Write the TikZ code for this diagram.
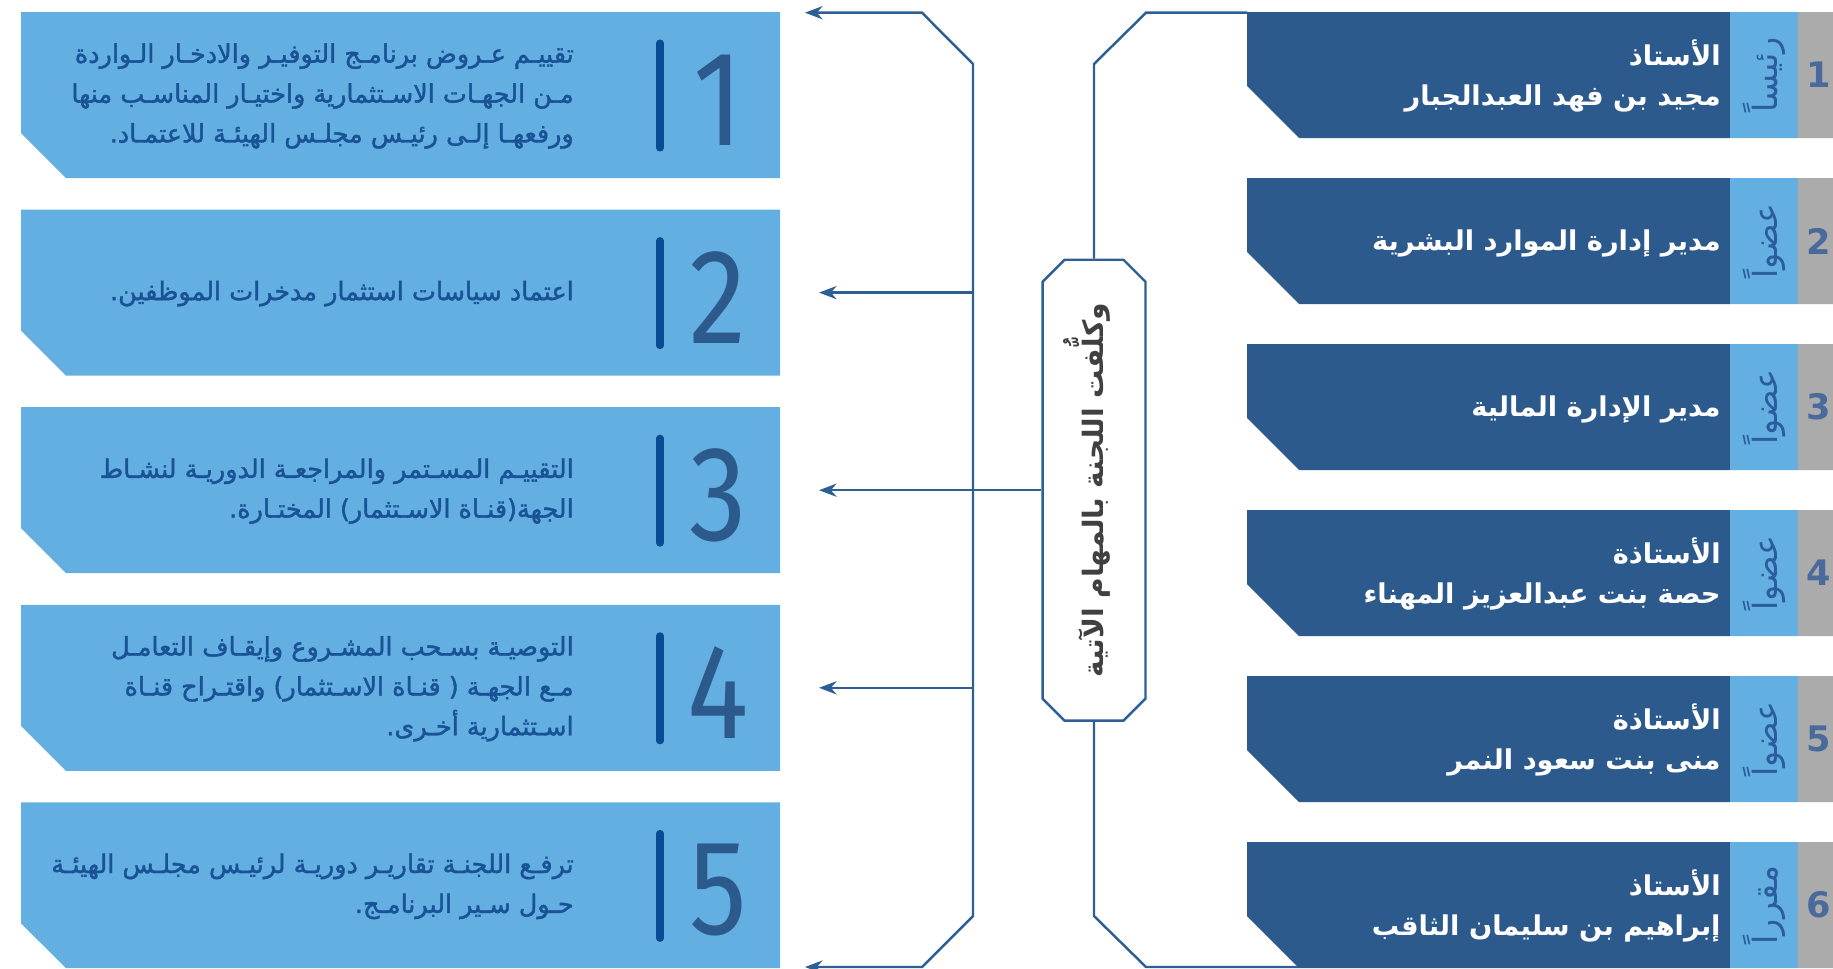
\documentclass[tikz,border=0pt]{standalone}
\usepackage{fontspec}
\usepackage{tikz}
\usetikzlibrary{arrows.meta, positioning, shapes.misc, calc}

\TeXXeTstate=1
\newfontfamily\arabicfont[Script=Arabic]{DejaVu Sans}
\newfontfamily\arabicmed[Script=Arabic, FakeBold=1.6]{DejaVu Sans}
\newfontfamily\idfont{DejaVu Sans}
\newfontfamily\bigdigit[FakeStretch=0.85]{Fira Sans}

\definecolor{skyfill}{HTML}{63AFE2}
\definecolor{navyfill}{HTML}{2D5A8C}
\definecolor{barblue}{HTML}{0A4B96}
\definecolor{taskink}{HTML}{1A5296}
\definecolor{roleink}{HTML}{2B5C9C}
\definecolor{greyfill}{HTML}{ABABAB}
\definecolor{idink}{HTML}{4A6A9C}
\definecolor{linkblue}{HTML}{2D5F96}
\definecolor{headink}{HTML}{404040}

\tikzset{
  taskline/.style={anchor=east, align=right, inner sep=0pt, text=taskink,
    font=\arabicmed\fontsize{14.5}{22.7}\selectfont},
  bignum/.style={inner sep=0pt, text=navyfill, font=\bigdigit\fontsize{77}{77}\selectfont},
  numbar/.style={barblue, line width=4pt, line cap=round},
  member/.style={anchor=east, align=right, inner sep=0pt, text=white,
    font=\arabicfont\bfseries\fontsize{15.5}{23}\selectfont},
  role/.style={rotate=90, inner sep=0pt, text=roleink,
    font=\arabicfont\fontsize{19}{19}\selectfont},
  memberid/.style={inner sep=0pt, text=idink, font=\idfont\bfseries\fontsize{20}{20}\selectfont},
  link/.style={linkblue, line width=1.4pt},
  flow/.style={link, -{Stealth[length=10pt, width=7.5pt]}},
}

\begin{document}
\begin{tikzpicture}[x=0.02cm, y=-0.02cm]
    \useasboundingbox (0,0) rectangle (1833,968);

    \fill[skyfill] (21,12) -- (780,12) -- (780,178) -- (66,178) -- (21,133) -- cycle;
    \fill[skyfill] (21,209.6) -- (780,209.6) -- (780,375.6) -- (66,375.6) -- (21,330.6) -- cycle;
    \fill[skyfill] (21,407.2) -- (780,407.2) -- (780,573.2) -- (66,573.2) -- (21,528.2) -- cycle;
    \fill[skyfill] (21,604.8) -- (780,604.8) -- (780,770.8) -- (66,770.8) -- (21,725.8) -- cycle;
    \fill[skyfill] (21,802.4) -- (780,802.4) -- (780,968) -- (66,968) -- (21,923.4) -- cycle;

    \draw[numbar] (660,43) -- (660,148);
    \draw[numbar] (660,240.6) -- (660,345.6);
    \draw[numbar] (660,438.2) -- (660,543.2);
    \draw[numbar] (660,635.8) -- (660,740.8);
    \draw[numbar] (660,833.4) -- (660,938.4);

    \node[bignum] (num1) at (718,100) {1};
    \node[bignum] (num2) at (718,297.6) {2};
    \node[bignum] (num3) at (718,495.2) {3};
    \node[bignum] (num4) at (718,692.8) {4};
    \node[bignum] (num5) at (718,890.4) {5};

    \node[taskline] (task1) at (574,96) {\beginR تقييـم عـروض برنامـج التوفيـر والادخـار الـواردة\endR\\
      \beginR مـن الجهـات الاسـتثمارية واختيـار المناسـب منها\endR\\
      \beginR ورفعهـا إلـى رئيـس مجلـس الهيئـة للاعتمـاد.\endR};
    \node[taskline] (task2) at (574,293.6) {\beginR اعتماد سياسات استثمار مدخرات الموظفين.\endR};
    \node[taskline] (task3) at (574,491.2) {\beginR التقييـم المسـتمر والمراجعـة الدوريـة لنشـاط\endR\\
      \beginR الجهة(قنـاة الاسـتثمار) المختـارة.\endR};
    \node[taskline] (task4) at (574,688.8) {\beginR التوصيـة بسـحب المشـروع وإيقـاف التعامـل\endR\\
      \beginR مـع الجهـة ( قنـاة الاسـتثمار) واقتـراح قنـاة\endR\\
      \beginR اسـتثمارية  أخـرى.\endR};
    \node[taskline] (task5) at (574,886.4) {\beginR ترفـع اللجنـة تقاريـر دوريـة لرئيـس مجلـس الهيئـة\endR\\
      \beginR حـول سـير البرنامـج.\endR};

    \fill[navyfill] (1247,12) -- (1730,12) -- (1730,138) -- (1299,138) -- (1247,86) -- cycle;
    \fill[navyfill] (1247,178) -- (1730,178) -- (1730,304) -- (1299,304) -- (1247,252) -- cycle;
    \fill[navyfill] (1247,344) -- (1730,344) -- (1730,470) -- (1299,470) -- (1247,418) -- cycle;
    \fill[navyfill] (1247,510) -- (1730,510) -- (1730,636) -- (1299,636) -- (1247,584) -- cycle;
    \fill[navyfill] (1247,676) -- (1730,676) -- (1730,802) -- (1299,802) -- (1247,750) -- cycle;
    \fill[navyfill] (1247,842) -- (1730,842) -- (1730,968) -- (1299,968) -- (1247,916) -- cycle;
    \fill[skyfill] (1730,12) rectangle (1798,138) (1730,178) rectangle (1798,304) (1730,344) rectangle (1798,470)
      (1730,510) rectangle (1798,636) (1730,676) rectangle (1798,802) (1730,842) rectangle (1798,968);
    \fill[greyfill] (1798,12) rectangle (1833,138) (1798,178) rectangle (1833,304) (1798,344) rectangle (1833,470)
      (1798,510) rectangle (1833,636) (1798,676) rectangle (1833,802) (1798,842) rectangle (1833,968);

    \node[member] (member1) at (1721,76) {\beginR الأستاذ\endR\\ \beginR مجيد بن فهد العبدالجبار\endR};
    \node[member] (member2) at (1721,243) {\beginR مدير إدارة الموارد البشرية\endR};
    \node[member] (member3) at (1721,409) {\beginR مدير الإدارة المالية\endR};
    \node[member] (member4) at (1721,574) {\beginR الأستاذة\endR\\ \beginR حصة بنت عبدالعزيز المهناء\endR};
    \node[member] (member5) at (1721,740) {\beginR الأستاذة\endR\\ \beginR منى بنت سعود النمر\endR};
    \node[member] (member6) at (1721,906) {\beginR الأستاذ\endR\\ \beginR إبراهيم بن سليمان الثاقب\endR};

    \node[role] (role1) at (1764,75) {\beginR رئيساً\endR};
    \node[role] (role2) at (1764,241) {\beginR عضواً\endR};
    \node[role] (role3) at (1764,407) {\beginR عضواً\endR};
    \node[role] (role4) at (1764,573) {\beginR عضواً\endR};
    \node[role] (role5) at (1764,739) {\beginR عضواً\endR};
    \node[role] (role6) at (1764,905) {\beginR مقرراً\endR};

    \node[memberid] (id1) at (1819,75) {1};
    \node[memberid] (id2) at (1819,241) {2};
    \node[memberid] (id3) at (1819,407) {3};
    \node[memberid] (id4) at (1819,573) {4};
    \node[memberid] (id5) at (1819,739) {5};
    \node[memberid] (id6) at (1819,905) {6};

    \node[chamfered rectangle, chamfered rectangle xsep=0.22cm, chamfered rectangle ysep=0.22cm,
      draw=linkblue, line width=1.4pt, fill=white, inner sep=0pt,
      minimum width=2.06cm, minimum height=9.22cm] (tasks) at (1094,490.2)
      {\rotatebox{90}{\raisebox{4pt}[\height][\depth]{\arabicfont\bfseries\fontsize{16}{16}\selectfont\color{headink}\beginR وكلُّفت اللجنة بالمهام الآتية\endR}}};

    \coordinate (tip1) at (805,12.7);
    \coordinate (tip2) at (819,292.6);
    \coordinate (tip3) at (819,490.2);
    \coordinate (tip4) at (819,687.8);
    \coordinate (tip5) at (805,967);
    \coordinate (spine-n) at (973,64);
    \coordinate (spine-s) at (973,916);
    \coordinate (board-nw) at (1247,12.7);
    \coordinate (board-sw) at (1299,967);

    \draw[link, {Stealth[length=10pt, width=7.5pt]}-{Stealth[length=10pt, width=7.5pt]}]
      (tip1) -- (922,12.7) -- (spine-n) -- (spine-s) -- (922,967) -- (tip5);
    \draw[flow] (spine-n |- tip2) -- (tip2);
    \draw[flow] (tasks.west) -- (tip3);
    \draw[flow] (spine-n |- tip4) -- (tip4);
    \draw[link] (board-nw) -- (1146,12.7) -- (1094,64) -- (tasks.north);
    \draw[link] (tasks.south) -- (1094,916) -- (1146,967) -- (board-sw);
\end{tikzpicture}
\end{document}
